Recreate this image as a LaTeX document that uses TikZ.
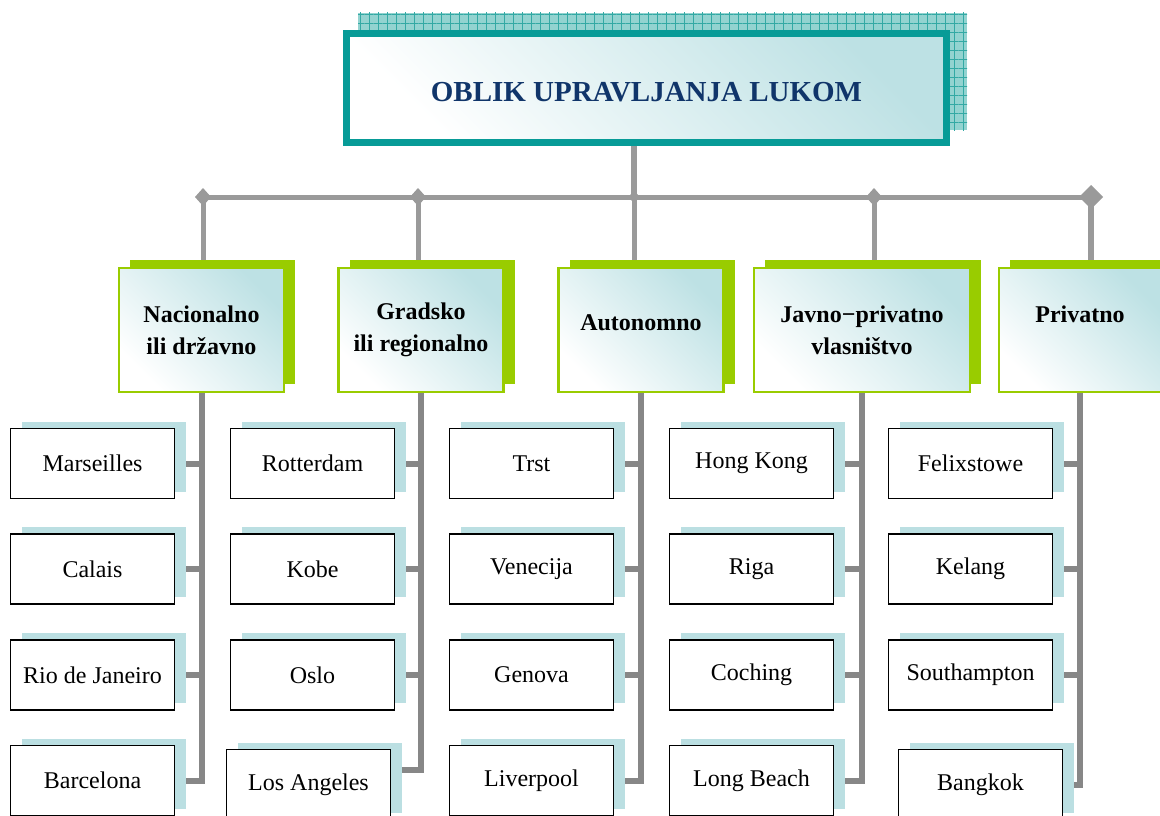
\documentclass[tikz,border=0pt]{standalone}
\usepackage{fontspec}
\setmainfont{Liberation Serif}
\usetikzlibrary{shadows, patterns.meta, backgrounds}

\definecolor{titleteal}{HTML}{079B97}
\definecolor{titleblue}{HTML}{10356A}
\definecolor{gridfill}{HTML}{93D3D0}
\definecolor{gridline}{HTML}{33A9A4}
\definecolor{boxshade}{HTML}{BDE1E4}
\definecolor{catgreen}{HTML}{99CC00}
\definecolor{portshade}{HTML}{BBDFE2}
\definecolor{busgray}{HTML}{9A9A9A}
\definecolor{spinegray}{HTML}{878787}

\begin{document}
\begin{tikzpicture}[x=1pt, y=-1pt,
    titlebox/.style={draw=titleteal, line width=7pt, left color=white, right color=boxshade, shading angle=135,
        minimum width=600pt, minimum height=109pt, text=titleblue, text height=27pt,
        font=\fontsize{29}{34}\selectfont\bfseries},
    catbox/.style={draw=catgreen, line width=2.5pt, left color=white, right color=boxshade, shading angle=135,
        minimum width=165pt, minimum height=124pt, align=center,
        font=\fontsize{24}{32}\selectfont\bfseries,
        general shadow={shadow xshift=11pt, shadow yshift=8pt, fill=catgreen}},
    portbox/.style={draw=black, line width=1.5pt, fill=white, minimum width=164pt, minimum height=70pt,
        font=\fontsize{24}{28}\selectfont,
        general shadow={shadow xshift=11pt, shadow yshift=7pt, fill=portshade}},
    busline/.style={draw=busgray, line width=5pt},
    spine/.style={draw=spinegray, line width=6pt}]

    \useasboundingbox (0,0) rectangle (1160,816);

    % title with grid shadow
    \fill[gridfill] (358,13) rectangle (967,130);
    \fill[pattern={Lines[distance=9pt, angle=0, line width=1pt]}, pattern color=gridline] (358,13) rectangle (967,130);
    \fill[pattern={Lines[distance=9pt, angle=90, line width=1pt]}, pattern color=gridline] (358,13) rectangle (967,130);
    \node[titlebox] (title) at (646.5,88) {OBLIK UPRAVLJANJA LUKOM};

    % forms of management
    \node[catbox] (nac) at (201.5,330) {Nacionalno\\ili državno};
    \node[catbox] (grad) at (421,330) {Gradsko\\ili regionalno};
    \node[catbox, text depth=14pt] (auto) at (641,330) {Autonomno};
    \node[catbox, minimum width=216pt] (javno) at (862,330) {Javno−privatno\\vlasništvo};
    \node[catbox, minimum width=162pt] (priv) at (1080,330) {Privatno\\\mbox{}};

    % ports
    \node[portbox] (mars) at (92.5,463.5) {Marseilles};
    \node[portbox] (cal) at (92.5,569) {Calais};
    \node[portbox] (rio) at (92.5,675) {Rio de Janeiro};
    \node[portbox] (barc) at (92.5,780.5) {Barcelona};

    \node[portbox] (rot) at (312.5,463.5) {Rotterdam};
    \node[portbox] (kobe) at (312.5,569) {Kobe};
    \node[portbox] (oslo) at (312.5,675) {Oslo};
    \node[portbox] (la) at (308.5,784.5) {Los Angeles};

    \node[portbox] (trst) at (531.5,463.5) {Trst};
    \node[portbox] (ven) at (531.5,569) {Venecija};
    \node[portbox] (gen) at (531.5,675) {Genova};
    \node[portbox] (liv) at (531.5,780.5) {Liverpool};

    \node[portbox] (hk) at (751.5,463.5) {Hong Kong};
    \node[portbox] (riga) at (751.5,569) {Riga};
    \node[portbox] (coch) at (751.5,675) {Coching};
    \node[portbox] (lb) at (751.5,780.5) {Long Beach};

    \node[portbox] (felix) at (970.5,463.5) {Felixstowe};
    \node[portbox] (kel) at (970.5,569) {Kelang};
    \node[portbox] (south) at (970.5,675) {Southampton};
    \node[portbox] (bang) at (980.5,784.5) {Bangkok};

    \begin{pgfonlayer}{background}
        \fill[white] (0,0) rectangle (1160,816);

        % bus
        \coordinate (b1) at (203,197);
        \coordinate (b2) at (418,197);
        \coordinate (b3) at (634,197);
        \coordinate (b4) at (874,197);
        \coordinate (b5) at (1091,197);
        \draw[busline] (b1) -- (b5);
        \draw[busline, line width=6pt] (b3 |- title.south) -- (b3);
        \draw[busline] (b1) -- (b1 |- nac.north);
        \draw[busline] (b2) -- (b2 |- grad.north);
        \draw[busline] (b3) -- (b3 |- auto.north);
        \draw[busline] (b4) -- (b4 |- javno.north);
        \draw[busline, line width=6pt] (b5) -- (b5 |- priv.north);
        \foreach \p in {b1,b2,b4}
            \fill[busgray] (\p) +(0,-9) -- +(8,0) -- +(0,9) -- +(-8,0) -- cycle;
        \fill[busgray] (b3) +(0,-6) -- +(6,0) -- +(0,6) -- +(-6,0) -- cycle;
        \fill[busgray] (b5) +(0,-12) -- +(12,0) -- +(0,12) -- +(-12,0) -- cycle;

        % spines and stubs
        \draw[spine] (nac.south) |- (barc.east);
        \foreach \c in {mars,cal,rio}
            \draw[spine] (\c.east) -- (\c.east -| nac.south);
        \draw[spine] (grad.south) |- ([yshift=14.5pt]la.east);
        \foreach \c in {rot,kobe,oslo}
            \draw[spine] (\c.east) -- (\c.east -| grad.south);
        \draw[spine] (auto.south) |- (liv.east);
        \foreach \c in {trst,ven,gen}
            \draw[spine] (\c.east) -- (\c.east -| auto.south);
        \draw[spine] (javno.south) |- (lb.east);
        \foreach \c in {hk,riga,coch}
            \draw[spine] (\c.east) -- (\c.east -| javno.south);
        \draw[spine] (priv.south) |- (bang.east);
        \foreach \c in {felix,kel,south}
            \draw[spine] (\c.east) -- (\c.east -| priv.south);
    \end{pgfonlayer}
\end{tikzpicture}
\end{document}
